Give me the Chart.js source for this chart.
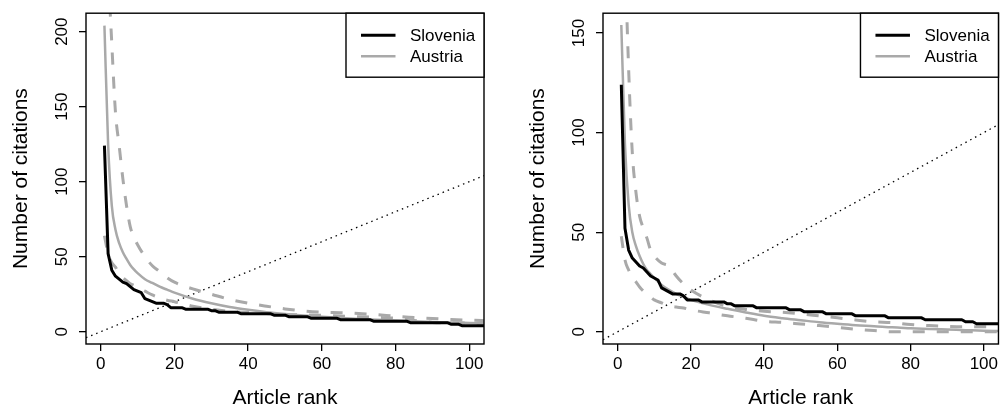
<!DOCTYPE html>
<html>
<head>
<meta charset="utf-8">
<script src="https://cdn.jsdelivr.net/npm/chart.js@4.4.0/dist/chart.umd.min.js"></script>
<style>
body{margin:0;background:#fff;width:1001px;height:409px;overflow:hidden;position:relative}
canvas{position:absolute;top:0}
#left_chart{left:0}
#right_chart{left:517px}
</style>
</head>
<body>
<canvas id="left_chart" width="500" height="409"></canvas>
<canvas id="right_chart" width="484" height="409"></canvas>
<script>
// Slovenia: citations of ranked articles (rank = index + 1), same in both panels
const sloveniaCitations = [124,52,41,37,35,33,32,30,28,27,26,22,21,20,19,19,19,18,16,16,16,16,
  15,15,15,15,15,15,15, 14,14, 13,13,13,13,13,13, 12,12,12,12,12,12,12,12,12, 11,11,11,11,
  10,10,10,10,10,10, 9,9,9,9,9,9,9,9, 8,8,8,8,8,8,8,8,8, 7,7,7,7,7,7,7,7,7,7,
  6,6,6,6,6,6,6,6,6,6,6, 5,5,5, 4,4,4,4,4,4,4,4];

// Austria curves read at these ranks
const austriaRanks = [1,2,3,4,5,6,7,8,9,10,12,14,16,18,20,25,30,35,40,45,50,55,60,65,70,75,80,85,90,95,100,105];

// left panel
const leftFit   = [204,125,84,68,59,53,48.5,44.5,41.5,39,35,32.5,30,28,26,22,19,16.5,14.6,13,11.8,10.8,9.9,9.2,8.5,7.9,7.4,6.9,6.5,6.1,5.8,5.5];
const leftUpper = [330,245,192,146,124,102,84,70,63,58,50,44,40,36,33,28.5,25,21.5,19,17,15.2,13.8,13,12.7,12.2,11.3,10.3,9.4,8.8,8.2,7.7,7.3];
const leftLower = [64,52,46,43,38.5,36,34,32,31,29.5,27,24.5,22.5,21,20,17,15,13.5,12.8,12.2,11.4,11.2,11,10.5,10,9.5,9,7.5,6.2,5.8,5.7,5.6];

// right panel
const rightFit   = [154,94,64,50,43,38,34,31,29,27,23.5,21,19,17.5,16,13.5,11.5,9.7,8,6.8,5.8,4.8,4,3.3,2.8,2.2,1.8,1.4,1.1,0.8,0.5,0.3];
const rightUpper = [300,195,132,90,70,58,52,47,41,38,34.5,33,28,24,21,16,12.7,11.2,10.3,9.8,9,8,7,5.9,5,4.6,3.6,3.1,2.7,2.5,2.5,2.5];
const rightLower = [48,36,31,27.5,25,22.5,20.5,19,17.5,16,14.5,13,12.4,11.9,11,9.5,8,6.8,5.3,4.7,3.9,3.1,2.2,1.3,0.6,0,0,0,0,0,0,0];

const xTicks = [0,20,40,60,80,100];
const leftYTicks = [0,50,100,150,200];
const rightYTicks = [0,50,100,150];
const xRange = [-4,104];
const leftYRange = [-8.2,212.3];
const rightYRange = [-6.15,159.95];

const legendLabels = ["Slovenia","Austria"];
const GREY = '#a9a9a9';
const FONT = "'Liberation Sans', Arial, Helvetica, sans-serif";

// box round the plot region
const boxPlugin = {
  id: 'box',
  afterDatasetsDraw(chart){
    const a = chart.chartArea, c = chart.ctx;
    c.save();
    c.strokeStyle = '#000';
    c.lineWidth = 1.4;
    c.strokeRect(a.left, a.top, a.right - a.left, a.bottom - a.top);
    c.restore();
  }
};

// R-like legend box in the top right corner
const legendPlugin = {
  id: 'rlegend',
  afterDraw(chart){
    const a = chart.chartArea, c = chart.ctx;
    const w = 138, h = 64;
    const x0 = a.right - w, y0 = a.top;
    c.save();
    c.fillStyle = '#fff';
    c.fillRect(x0, y0, w, h);
    c.strokeStyle = '#000';
    c.lineWidth = 1.4;
    c.strokeRect(x0, y0, w, h);
    c.font = "17px " + FONT;
    c.textBaseline = 'middle';
    legendLabels.forEach((lab, i) => {
      const ds = chart.data.datasets[i];
      const y = y0 + 22 + i * 21;
      c.strokeStyle = ds.borderColor;
      c.lineWidth = ds.borderWidth;
      c.beginPath();
      c.moveTo(x0 + 15, y);
      c.lineTo(x0 + 49.5, y);
      c.stroke();
      c.fillStyle = '#000';
      c.fillText(lab, x0 + 64, y + 1);
    });
    c.restore();
  }
};

function makeChart(id, fit, upper, lower, yRange, yTicks, padRight){
  const ctx = document.getElementById(id).getContext('2d');
  const toPts = arr => arr.map((v, i) => ({x: austriaRanks[i], y: v}));
  return new Chart(ctx, {
    type: 'line',
    data: {
      datasets: [{
        label: legendLabels[0],
        data: sloveniaCitations.map((v, i) => ({x: i + 1, y: v})),
        borderColor: '#000',
        borderWidth: 3,
        tension: 0
      },{
        label: legendLabels[1],
        data: toPts(fit),
        borderColor: GREY,
        borderWidth: 2.5,
        cubicInterpolationMode: 'monotone'
      },{
        label: 'upper',
        data: toPts(upper),
        borderColor: GREY,
        borderWidth: 3,
        borderDash: [12, 12],
        cubicInterpolationMode: 'monotone'
      },{
        label: 'lower',
        data: toPts(lower),
        borderColor: GREY,
        borderWidth: 3,
        borderDash: [12, 12],
        cubicInterpolationMode: 'monotone'
      },{
        label: 'y = x',
        data: xRange.map(v => ({x: v, y: v})),
        borderColor: '#000',
        borderWidth: 1.3,
        borderDash: [1.5, 4]
      }]
    },
    options: {
      responsive: false,
      animation: false,
      devicePixelRatio: 1,
      layout: {padding: {top: 10, right: padRight, bottom: 0, left: 0}},
      elements: {point: {radius: 0}, line: {fill: false, borderJoinStyle: 'round'}},
      plugins: {legend: {display: false}, tooltip: {enabled: false}},
      scales: {
        x: {
          type: 'linear',
          min: xRange[0], max: xRange[1],
          afterBuildTicks: s => { s.ticks = xTicks.map(v => ({value: v})); },
          afterFit: s => { s.height = 65; },
          grid: {drawOnChartArea: false, drawTicks: true, tickLength: 7, color: '#000', lineWidth: 1.3},
          border: {display: false},
          ticks: {color: '#000', font: {family: FONT, size: 17}, padding: 3, maxRotation: 0, autoSkip: false},
          title: {display: true, text: 'Article rank', color: '#000',
                  font: {family: FONT, size: 21, lineHeight: 1}, padding: {top: 0, bottom: 0.5}}
        },
        y: {
          type: 'linear',
          min: yRange[0], max: yRange[1],
          afterBuildTicks: s => { s.ticks = yTicks.map(v => ({value: v})); },
          afterFit: s => { s.width = 86; },
          grid: {drawOnChartArea: false, drawTicks: true, tickLength: 7, color: '#000', lineWidth: 1.3},
          border: {display: false},
          ticks: {color: '#000', font: {family: FONT, size: 17}, padding: 3,
                  minRotation: 90, maxRotation: 90, crossAlign: 'center', autoSkip: false},
          title: {display: true, text: 'Number of citations', color: '#000',
                  font: {family: FONT, size: 21, lineHeight: 1}, padding: {top: 11, bottom: 0}}
        }
      }
    },
    plugins: [boxPlugin, legendPlugin]
  });
}

makeChart('left_chart', leftFit, leftUpper, leftLower, leftYRange, leftYTicks, 16);
makeChart('right_chart', rightFit, rightUpper, rightLower, rightYRange, rightYTicks, 0);
</script>
</body>
</html>
